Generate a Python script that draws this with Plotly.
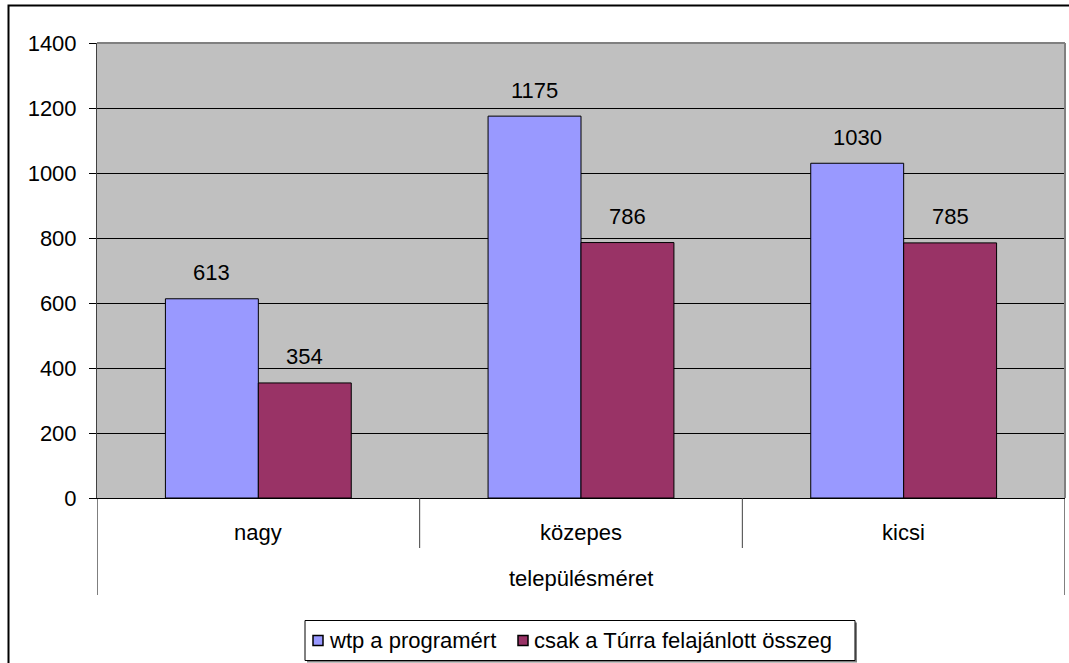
import plotly.graph_objects as go

# Data
categories = ["nagy", "közepes", "kicsi"]
series_names = ["wtp a programért", "csak a Túrra felajánlott összeg"]
series_colors = ["#9999FF", "#993366"]
wtp_values = [613, 1175, 1030]
tura_values = [354, 786, 785]
y_ticks = [0, 200, 400, 600, 800, 1000, 1200, 1400]
axis_group_title = "településméret"

W, H = 1069, 663
FONT = "Liberation Sans, Arial, sans-serif"
FS = 22
BAR_GAP = 0.424

# plot area in pixels
px_left, px_right, px_top, px_bottom = 97, 1065, 43, 498


def px(pix):
    return pix / W


def py(pix):
    return (H - pix) / H


dom_x = [px(px_left), px(px_right)]
dom_y = [py(px_bottom), py(px_top)]
txt = dict(family=FONT, size=FS, color="black")

fig = go.Figure()
for name, vals, col in zip(series_names, (wtp_values, tura_values), series_colors):
    fig.add_trace(go.Bar(
        x=categories, y=vals, name=name, showlegend=False,
        marker=dict(color=col, line=dict(color="black", width=1)),
    ))

# value labels above bars
bar_w = (1 - BAR_GAP) / 2
annotations = []
for vals, off in ((wtp_values, -bar_w / 2), (tura_values, bar_w / 2)):
    for i, v in enumerate(vals):
        annotations.append(dict(
            x=i + off, y=v, xref="x", yref="y", text=str(v), showarrow=False,
            yanchor="middle", yshift=26, font=txt,
        ))

# category labels and group title under the axis
for i, c in enumerate(categories):
    annotations.append(dict(
        x=i, y=py(532), xref="x", yref="paper", text=c, showarrow=False,
        yanchor="middle", font=txt,
    ))
annotations.append(dict(
    x=(len(categories) - 1) / 2, y=py(578), xref="x", yref="paper", text=axis_group_title,
    showarrow=False, yanchor="middle", font=txt,
))

shapes = []
# divider lines of the category axis
n = len(categories)
for k in range(n + 1):
    edge = k == 0 or k == n
    shapes.append(dict(
        type="line", xref="x", yref="paper", x0=k - 0.5, x1=k - 0.5,
        y0=dom_y[0], y1=py(595) if edge else py(548),
        line=dict(color="black" if edge else "#404040", width=1),
    ))
# plot area frame (top / right in gray)
shapes.append(dict(
    type="line", xref="paper", yref="paper", x0=dom_x[0], x1=dom_x[1], y0=dom_y[1], y1=dom_y[1],
    line=dict(color="#808080", width=2), layer="above",
))
shapes.append(dict(
    type="line", xref="paper", yref="paper", x0=dom_x[1], x1=dom_x[1], y0=dom_y[0], y1=dom_y[1],
    line=dict(color="#808080", width=2), layer="above",
))
# chart border
shapes.append(dict(
    type="rect", xref="paper", yref="paper", x0=px(8.5), x1=1.02, y0=-0.02, y1=py(5.5),
    line=dict(color="black", width=2), fillcolor="rgba(0,0,0,0)",
))

# legend box with shadow
lg_l, lg_r, lg_t, lg_b = 305, 855, 620.5, 660.5
shapes.append(dict(
    type="rect", xref="paper", yref="paper", x0=px(lg_l + 2), x1=px(lg_r + 2),
    y0=py(lg_b + 2), y1=py(lg_t + 2), line=dict(width=0), fillcolor="#808080",
))
shapes.append(dict(
    type="rect", xref="paper", yref="paper", x0=px(lg_l), x1=px(lg_r),
    y0=py(lg_b), y1=py(lg_t), line=dict(color="black", width=1), fillcolor="white",
))
legend_item_x = [313, 518]
lg_cy = 640.5
for name, col, lx in zip(series_names, series_colors, legend_item_x):
    shapes.append(dict(
        type="rect", xref="paper", yref="paper", x0=px(lx), x1=px(lx + 10),
        y0=py(lg_cy + 5), y1=py(lg_cy - 5), line=dict(color="black", width=1.5), fillcolor=col,
    ))
    annotations.append(dict(
        x=px(lx + 14), y=py(lg_cy), xref="paper", yref="paper", text=name,
        showarrow=False, xanchor="left", yanchor="middle", font=txt,
    ))

fig.update_layout(
    width=W, height=H,
    margin=dict(l=0, r=0, t=0, b=0, pad=0, autoexpand=False),
    paper_bgcolor="white",
    plot_bgcolor="#C0C0C0",
    barmode="group", bargap=BAR_GAP, bargroupgap=0,
    font=txt,
    showlegend=False,
    xaxis=dict(
        domain=dom_x, range=[-0.5, n - 0.5], showticklabels=False, ticks="",
        showgrid=False, showline=True, linecolor="black", linewidth=1, zeroline=False,
        automargin=False,
    ),
    yaxis=dict(
        domain=dom_y, range=[0, 1400], tickvals=y_ticks,
        showgrid=True, gridcolor="black", gridwidth=1,
        ticks="outside", ticklen=7, tickcolor="black", tickwidth=1,
        showline=True, linecolor="#404040", linewidth=1,
        zeroline=True, zerolinecolor="black", zerolinewidth=1,
        ticklabelstandoff=8, tickfont=txt, automargin=False,
    ),
    annotations=annotations,
    shapes=shapes,
)

fig.write_html("out.html")
